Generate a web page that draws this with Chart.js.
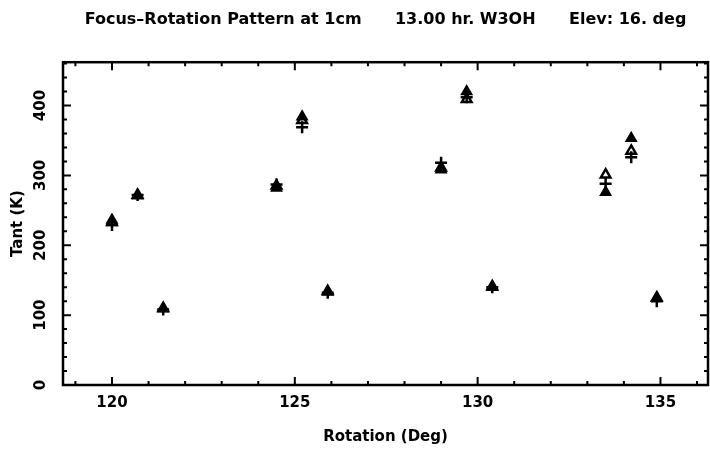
<!DOCTYPE html>
<html>
<head>
<meta charset="utf-8">
<script src="https://cdn.jsdelivr.net/npm/chart.js@4"></script>
<style>
  html, body { margin: 0; padding: 0; background: #fff; }
  #wrap { width: 710px; height: 452px; }
</style>
</head>
<body>
<div id="wrap"><canvas id="chart"></canvas></div>
<script>
// Datos
const rotation = [120.0, 120.7, 121.4, 124.5, 125.2, 125.9, 129.0, 129.7, 130.4, 133.5, 134.2, 134.9];
const tantFilled = [236, 271, 109, 282, 384, 133, 308, 420, 140, 276, 353, 124];
const tantOpen = [233, 272, 110, 285, 379, 134, 311, 409, 141, 301, 335, 125];
const tantPlus = [229, 272, 108, 287, 369, 132, 318, 412, 140, 288, 326, 120];

const xTicks = [120, 125, 130, 135];
const yTicks = [0, 100, 200, 300, 400];

const FONT = "'DejaVu Sans', sans-serif";

const toPoints = vals => vals.map((v, i) => ({ x: rotation[i], y: v }));

// ---- Marco y marcas hacia dentro ----
const framePlugin = {
  id: 'frame',
  afterDraw(chart) {
    const { ctx, chartArea: a, scales: { x, y } } = chart;
    ctx.save();
    ctx.strokeStyle = '#000';
    ctx.lineWidth = 2.5;
    ctx.strokeRect(a.left, a.top, a.right - a.left, a.bottom - a.top);
    ctx.lineWidth = 2;
    ctx.beginPath();
    for (let v = 119; v <= 136; v++) {
      const px = x.getPixelForValue(v);
      const len = v % 5 === 0 ? 8 : 4;
      ctx.moveTo(px, a.bottom); ctx.lineTo(px, a.bottom - len);
      ctx.moveTo(px, a.top); ctx.lineTo(px, a.top + len);
    }
    for (let v = 0; v <= 460; v += 20) {
      const py = y.getPixelForValue(v);
      const len = v % 100 === 0 ? 8 : 4;
      ctx.moveTo(a.left, py); ctx.lineTo(a.left + len, py);
      ctx.moveTo(a.right, py); ctx.lineTo(a.right - len, py);
    }
    ctx.stroke();
    ctx.restore();
  }
};

new Chart(document.getElementById('chart'), {
  type: 'scatter',
  data: {
    // el primer dataset se dibuja encima
    datasets: [
      { label: 'filled', data: toPoints(tantFilled), pointStyle: 'triangle', pointRadius: 6,
        backgroundColor: '#000', borderColor: '#000', borderWidth: 1.5 },
      { label: 'plus', data: toPoints(tantPlus), pointStyle: 'cross', pointRadius: 6,
        borderColor: '#000', borderWidth: 2.5 },
      { label: 'open', data: toPoints(tantOpen), pointStyle: 'triangle', pointRadius: 5.5,
        backgroundColor: '#fff', borderColor: '#000', borderWidth: 2.5 }
    ]
  },
  options: {
    responsive: true,
    maintainAspectRatio: false,
    animation: false,
    layout: { autoPadding: false, padding: { left: 0, right: 2, top: 0, bottom: 0 } },
    plugins: {
      legend: { display: false },
      tooltip: { enabled: false },
      title: {
        display: true,
        fullSize: false,
        text: 'Focus\u2013Rotation Pattern at 1cm      13.00 hr. W3OH      Elev: 16. deg',
        color: '#000',
        font: { family: FONT, size: 16, weight: 'bold' },
        padding: { top: 10, bottom: 33 }
      }
    },
    scales: {
      x: {
        type: 'linear',
        min: 118.66,
        max: 136.3,
        grid: { display: false, drawTicks: false },
        border: { display: false },
        afterBuildTicks: s => { s.ticks = xTicks.map(v => ({ value: v })); },
        afterFit: s => { s.height = 67; },
        ticks: {
          color: '#000',
          padding: 9,
          maxRotation: 0,
          font: { family: FONT, size: 15, weight: 'bold' }
        },
        title: {
          display: true,
          text: 'Rotation (Deg)',
          color: '#000',
          font: { family: FONT, size: 15, weight: 'bold' },
          padding: { top: 0, bottom: 6 }
        }
      },
      y: {
        min: 0,
        max: 462,
        grid: { display: false, drawTicks: false },
        border: { display: false },
        afterBuildTicks: s => { s.ticks = yTicks.map(v => ({ value: v })); },
        afterFit: s => { s.width = 63; },
        ticks: {
          color: '#000',
          padding: 6,
          minRotation: 90,
          maxRotation: 90,
          crossAlign: 'center',
          font: { family: FONT, size: 15, weight: 'bold' }
        },
        title: {
          display: true,
          text: 'Tant (K)',
          color: '#000',
          font: { family: FONT, size: 15, weight: 'bold' },
          padding: { top: 9, bottom: 0 }
        }
      }
    }
  },
  plugins: [framePlugin]
});
</script>
</body>
</html>
